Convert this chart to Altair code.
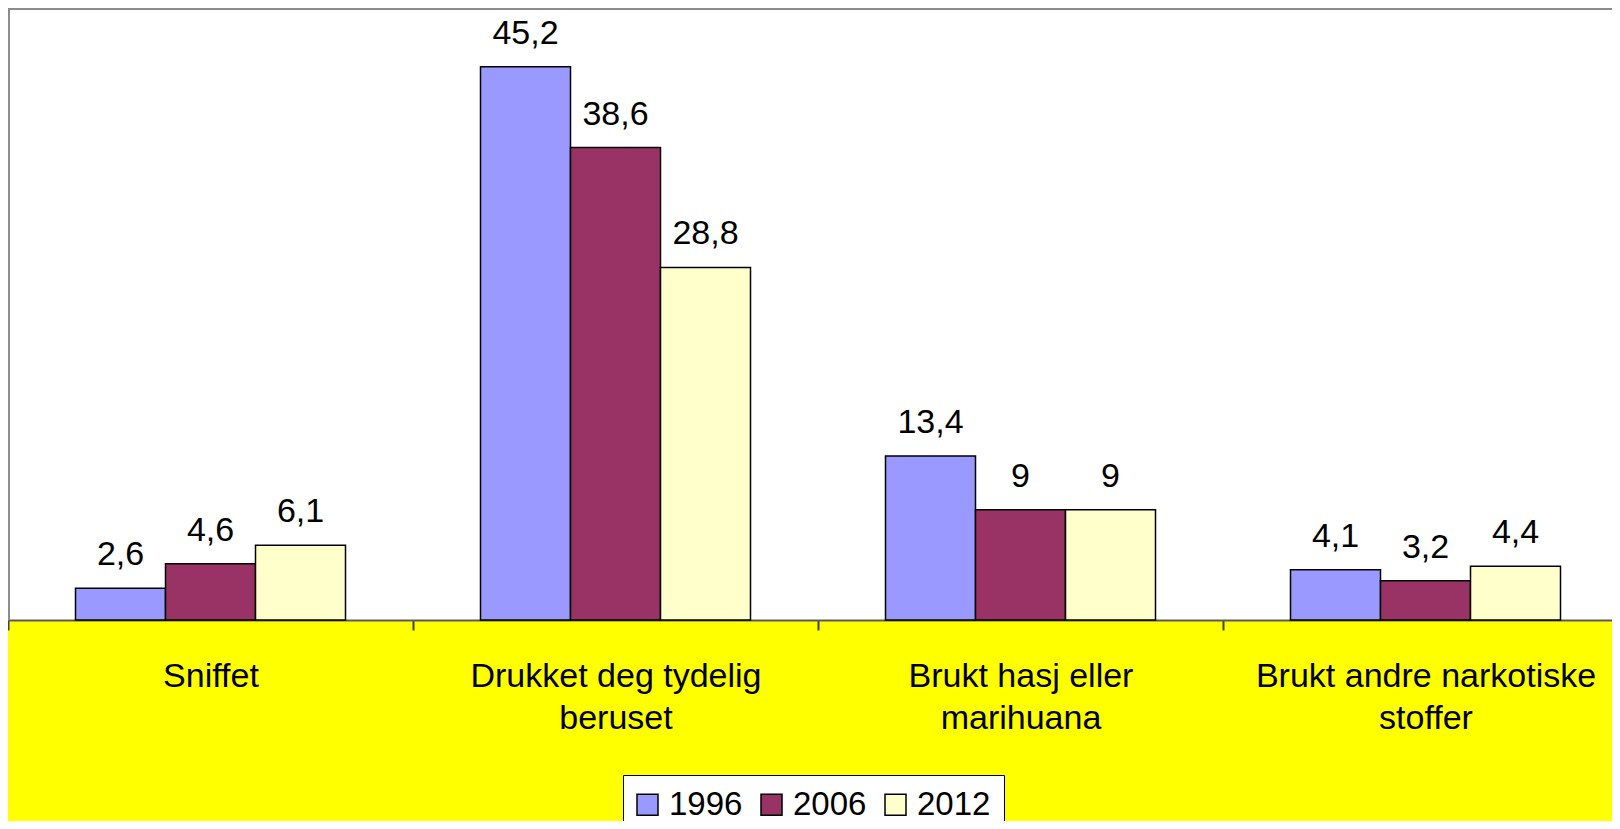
import json
import altair as alt
import pandas as pd

categories = ["Sniffet", "Drukket deg tydelig beruset",
              "Brukt hasj eller marihuana", "Brukt andre narkotiske stoffer"]
label_lines = [["Sniffet"], ["Drukket deg tydelig", "beruset"],
               ["Brukt hasj eller", "marihuana"], ["Brukt andre narkotiske", "stoffer"]]
years = ["1996", "2006", "2012"]
v1996 = [2.6, 45.2, 13.4, 4.1]
v2006 = [4.6, 38.6, 9, 3.2]
v2012 = [6.1, 28.8, 9, 4.4]
colors = ["#9999FF", "#993366", "#FFFFCC"]

FONT = "Liberation Sans, Arial, sans-serif"

rows = []
for i, c in enumerate(categories):
    for y, vals in zip(years, [v1996, v2006, v2012]):
        rows.append({"kategori": c, "aar": y, "verdi": vals[i]})
df = pd.DataFrame(rows)

expr = ""
for c, lines in zip(categories, label_lines):
    expr += f"datum.value == {json.dumps(c)} ? {json.dumps(lines)} : "
expr += "datum.label"

x_enc = alt.X(
    "kategori:N", sort=categories,
    scale=alt.Scale(domain=categories, range=[0, 1620],
                    paddingInner=0, paddingOuter=0),
    axis=alt.Axis(title=None, labelExpr=expr, tickBand="extent",
                  labelAngle=0, labelFontSize=34, labelFont=FONT,
                  labelColor="black", labelPadding=29, labelLineHeight=42,
                  labelBaseline="top", labelLimit=600, labelOverlap=False,
                  tickSize=10, tickColor="#404040", tickWidth=2,
                  domainColor="#5a5a5a", domainWidth=2, grid=False),
)
xo_enc = alt.XOffset("aar:N", sort=years,
                     scale=alt.Scale(paddingInner=0, paddingOuter=0.75))
y_enc = alt.Y("verdi:Q", scale=alt.Scale(domain=[0, 50]), axis=None)

base = alt.Chart(df)

bars = base.mark_bar(stroke="black", strokeWidth=1.5).encode(
    x=x_enc, xOffset=xo_enc, y=y_enc,
    color=alt.Color(
        "aar:N", sort=years,
        scale=alt.Scale(domain=years, range=colors),
        legend=alt.Legend(
            orient="none", legendX=615, legendY=767, direction="horizontal",
            title=None, symbolType="square", symbolSize=441,
            symbolStrokeColor="black", symbolStrokeWidth=1.5,
            symbolOffset=-5,
            labelFontSize=33, labelFont=FONT, labelColor="black",
            labelOffset=5, columnPadding=15, padding=13,
            strokeColor="black", fillColor="white"),
    ),
)

text = base.transform_calculate(
    lbl="replace(toString(datum.verdi), '.', ',')"
).mark_text(dy=-23, baseline="alphabetic", fontSize=34, font=FONT,
            color="black").encode(
    x=x_enc, xOffset=xo_enc, y=y_enc, text="lbl:N")

frame_data = alt.Data(values=[{"f": 1}])
left_border = alt.Chart(frame_data).mark_rule(color="#8c8c8c", strokeWidth=2).encode(
    x=alt.value(1), y=alt.value(0), y2=alt.value(612))
top_border = alt.Chart(frame_data).mark_rule(color="#8c8c8c", strokeWidth=2).encode(
    x=alt.value(0), x2=alt.value(1604), y=alt.value(1))

chart = alt.layer(bars, text, left_border, top_border).properties(
    width=1604, height=612,
    autosize=alt.AutoSizeParams(type="none"),
    padding={"left": 0, "top": 0, "right": 0, "bottom": 201},
    background="#FFFF00",
).configure_view(fill="white", stroke=None)

chart.save("out.html", embed_options={"renderer": "svg", "actions": False})
